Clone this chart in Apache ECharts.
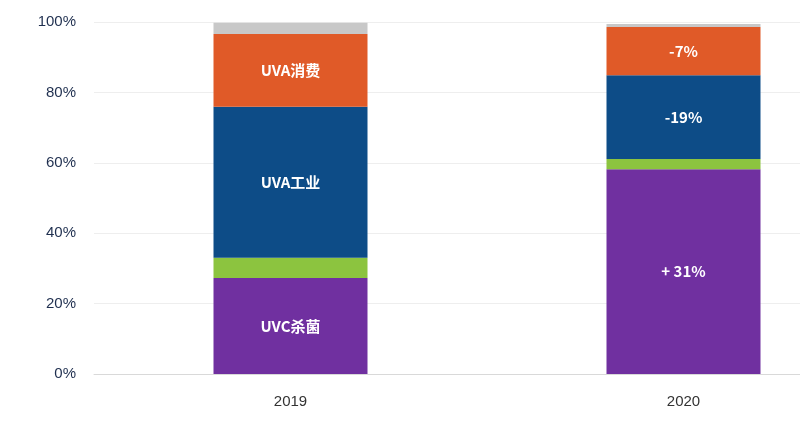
<!DOCTYPE html>
<html><head><meta charset="utf-8">
<script src="https://cdn.jsdelivr.net/npm/echarts@6/dist/echarts.min.js"></script>
<style>html,body{margin:0;background:#fff;overflow:hidden}#c{width:880px;height:431px}</style>
</head><body><div id="c"></div>
<script>
var years = ['2019', '2020'];
var uvc = [27.3, 58.2];
var other = [5.7, 2.9];
var uvaInd = [42.9, 23.8];
var uvaCons = [20.7, 13.7];
var rest = [3.2, 0.8];
var uvcLabels = ['UVC杀菌', '+ 31%'];
var indLabels = ['UVA工业', '-19%'];
var consLabels = ['UVA消费', '-7%'];

function lab(arr) {
    return {
        show: true, color: '#fff', fontSize: 15, fontWeight: 'bold',
        fontFamily: 'Noto Sans CJK SC',
        formatter: function (p) { return arr[p.dataIndex]; }
    };
}
function s(name, data, color, label) {
    return { name: name, type: 'bar', stack: 'a', barWidth: 154, data: data,
        itemStyle: { color: color }, label: label || { show: false } };
}
var chart = echarts.init(document.getElementById('c'));
chart.setOption({
    animation: false,
    grid: { left: 94, top: 22, right: 0, height: 352 },
    xAxis: {
        type: 'category', data: years,
        axisLine: { lineStyle: { color: '#d9d9d9' } }, axisTick: { show: false },
        axisLabel: { color: '#333', fontSize: 15, margin: 20 }
    },
    yAxis: {
        type: 'value', min: 0, max: 100, interval: 20,
        axisLabel: { formatter: '{value}%', color: '#1f2f4f', fontSize: 15, margin: 18 },
        splitLine: { lineStyle: { color: '#eeeeee' } }
    },
    series: [
        s('UVC', uvc, '#7030a0', lab(uvcLabels)),
        s('other', other, '#8cc43f'),
        s('UVA工业', uvaInd, '#0d4c87', lab(indLabels)),
        s('UVA消费', uvaCons, '#e05a28', lab(consLabels)),
        s('rest', rest, '#c8c8c8')
    ]
});
</script></body></html>
